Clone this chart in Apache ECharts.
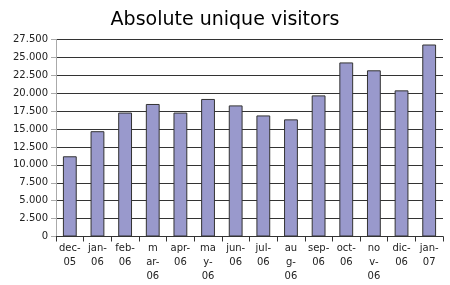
<!DOCTYPE html>
<html><head><meta charset="utf-8">
<script src="https://cdn.jsdelivr.net/npm/echarts@6/dist/echarts.min.js"></script>
<style>html,body{margin:0;padding:0;background:#fff}#c{width:450px;height:285px}</style>
</head><body><div id="c"></div>
<script>
const categories = ["dec-05","jan-06","feb-06","mar-06","apr-06","may-06","jun-06","jul-06","aug-06","sep-06","oct-06","nov-06","dic-06","jan-07"];
const tickLabels = ["dec-\n05","jan-\n06","feb-\n06","m\nar-\n06","apr-\n06","ma\ny-\n06","jun-\n06","jul-\n06","au\ng-\n06","sep-\n06","oct-\n06","no\nv-\n06","dic-\n06","jan-\n07"];
const visitors = [11200,14700,17300,18500,17300,19200,18300,16900,16350,19700,24300,23200,20400,26800];
const titleText = "Absolute unique visitors";

const chart = echarts.init(document.getElementById('c'), null, {renderer:'canvas'});
chart.setOption({
  animation:false,
  backgroundColor:'#fff',
  title:{text:titleText,left:'center',top:6,textStyle:{fontFamily:'DejaVu Sans',fontSize:19,fontWeight:'normal',color:'#000'}},
  grid:{left:56,right:7,top:39.5,bottom:48.5,containLabel:false},
  xAxis:{type:'category',data:categories,
    axisLine:{lineStyle:{color:'#333',width:1}},
    axisTick:{show:true,length:5,lineStyle:{color:'#333'}},
    axisLabel:{interval:0,fontFamily:'DejaVu Sans',fontSize:10,color:'#222',lineHeight:14,margin:5,
      formatter:(v,i)=>tickLabels[i]}},
  yAxis:{type:'value',min:0,max:27500,interval:2500,
    axisLine:{show:true,lineStyle:{color:'#aaa'}},
    axisTick:{show:true,length:5,lineStyle:{color:'#aaa'}},
    splitLine:{lineStyle:{color:'#333',width:1}},
    axisLabel:{fontFamily:'DejaVu Sans',fontSize:10,color:'#222',margin:8,
      formatter:v=>String(v).replace(/\B(?=(\d{3})+(?!\d))/g,'.')}},
  series:[{type:'bar',data:visitors,barWidth:'50%',
    itemStyle:{color:'#9999cc',borderColor:'#333',borderWidth:1}}]
});
</script></body></html>
